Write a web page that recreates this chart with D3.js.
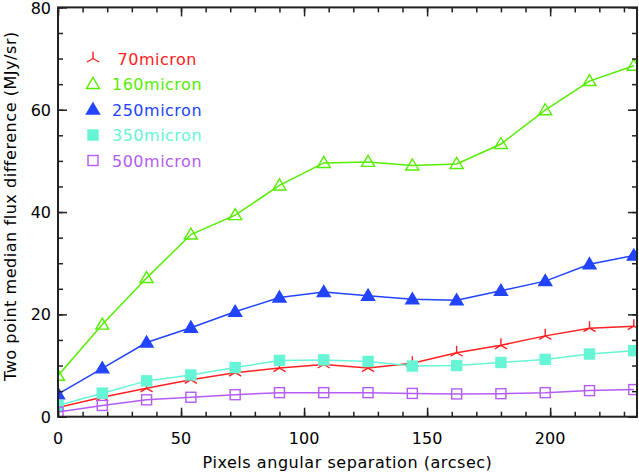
<!DOCTYPE html>
<html>
<head>
<meta charset="utf-8">
<script src="https://cdn.jsdelivr.net/npm/d3@7"></script>
<style>
  body { margin: 0; background: #fff; }
  svg { display: block; font-family: "DejaVu Sans", sans-serif; }
</style>
</head>
<body>
<svg id="chart" width="639" height="474"></svg>
<script>
// separation in arcsec
const sep = [0, 18, 36, 54, 72, 90, 108, 126, 144, 162, 180, 198, 216, 234];
// two point median flux difference (MJy/sr)
const f70  = [1.8, 3.8, 5.55, 7.2, 8.6, 9.5, 10.2, 9.5, 10.45, 12.5, 13.95, 15.8, 17.3, 17.7];
const f160 = [8.0, 18.0, 27.1, 35.6, 39.4, 45.2, 49.6, 49.8, 49.1, 49.4, 53.3, 59.9, 65.6, 68.6];
const f250 = [4.4, 9.45, 14.5, 17.4, 20.5, 23.3, 24.35, 23.65, 22.95, 22.75, 24.6, 26.5, 29.8, 31.5];
const f350 = [2.2, 4.6, 7.0, 8.15, 9.6, 11.0, 11.1, 10.8, 9.9, 10.0, 10.6, 11.2, 12.25, 12.9];
const f500 = [0.9, 2.2, 3.3, 3.8, 4.3, 4.7, 4.7, 4.7, 4.55, 4.45, 4.5, 4.7, 5.1, 5.3];

const seriesNames = ["70micron", "160micron", "250micron", "350micron", "500micron"];
const xTicks = [0, 50, 100, 150, 200];
const yTicks = [0, 20, 40, 60, 80];

const series = [
  {name: seriesNames[0], vals: f70,  color: "#ff2020", marker: "tri"},
  {name: seriesNames[1], vals: f160, color: "#55ee00", marker: "triOpen"},
  {name: seriesNames[2], vals: f250, color: "#2244ff", marker: "triFill"},
  {name: seriesNames[3], vals: f350, color: "#66f5d5", marker: "sqFill"},
  {name: seriesNames[4], vals: f500, color: "#b45cf5", marker: "sqOpen"}
];

const svg = d3.select("#chart");
const L = 58, R = 637, T = 7.4, B = 416.7;

const x = d3.scaleLinear().domain([0, 235.3]).range([L, R]);
const y = d3.scaleLinear().domain([0, 80]).range([B, T]);

// markers
function drawMarker(g, kind, color) {
  if (kind == "tri") {
    g.append("path").attr("d", "M0,0L0,-7M0,0L-6.1,3.5M0,0L6.1,3.5")
      .attr("stroke", color).attr("stroke-width", 1.4).attr("fill", "none");
  } else if (kind == "triOpen" || kind == "triFill") {
    g.append("path").attr("d", "M0,-6.5L6.5,4.5L-6.5,4.5Z")
      .attr("stroke", color).attr("stroke-width", 1.4)
      .attr("fill", kind == "triFill" ? color : "none");
  } else {
    g.append("rect").attr("x", -5).attr("y", -5).attr("width", 10).attr("height", 10)
      .attr("stroke", color).attr("stroke-width", 1.4)
      .attr("fill", kind == "sqFill" ? color : "none");
  }
}

svg.append("clipPath").attr("id", "clip")
  .append("rect").attr("x", L).attr("y", T).attr("width", R - L).attr("height", B - T);

const plot = svg.append("g").attr("clip-path", "url(#clip)");

const line = d3.line().x((d, i) => x(sep[i])).y(d => y(d));

for (let s of series) {
  plot.append("path").datum(s.vals).attr("d", line)
    .attr("fill", "none").attr("stroke", s.color).attr("stroke-width", 1.5);
  s.vals.forEach((v, i) => {
    let g = plot.append("g").attr("transform", `translate(${x(sep[i])},${y(v)})`);
    drawMarker(g, s.marker, s.color);
  });
}

// axes, ticks pointing inward on all four sides
const axisColor = "#222";
const xMinor = d3.range(0, 236, 10);
const yMinor = d3.range(0, 81, 5);

svg.append("g").attr("transform", `translate(0,${B})`)
  .call(d3.axisTop(x).tickValues(xMinor).tickSize(5).tickFormat(""));
svg.append("g").attr("transform", `translate(0,${B})`)
  .call(d3.axisTop(x).tickValues(xTicks).tickSize(9).tickFormat(""));
svg.append("g").attr("transform", `translate(0,${T})`)
  .call(d3.axisBottom(x).tickValues(xMinor).tickSize(5).tickFormat(""));
svg.append("g").attr("transform", `translate(0,${T})`)
  .call(d3.axisBottom(x).tickValues(xTicks).tickSize(9).tickFormat(""));
svg.append("g").attr("transform", `translate(${L},0)`)
  .call(d3.axisRight(y).tickValues(yMinor).tickSize(5).tickFormat(""));
svg.append("g").attr("transform", `translate(${L},0)`)
  .call(d3.axisRight(y).tickValues(yTicks).tickSize(9).tickFormat(""));
svg.append("g").attr("transform", `translate(${R},0)`)
  .call(d3.axisLeft(y).tickValues(yMinor).tickSize(5).tickFormat(""));
svg.append("g").attr("transform", `translate(${R},0)`)
  .call(d3.axisLeft(y).tickValues(yTicks).tickSize(9).tickFormat(""));

svg.selectAll(".domain").remove();
svg.selectAll(".tick line").attr("stroke", axisColor).attr("stroke-width", 1.5);

svg.append("rect").attr("x", L).attr("y", T).attr("width", R - L).attr("height", B - T)
  .attr("fill", "none").attr("stroke", axisColor).attr("stroke-width", 2);

// tick labels
svg.selectAll(".xlab").data(xTicks).join("text")
  .attr("x", d => x(d)).attr("y", 444)
  .attr("text-anchor", "middle").attr("font-size", 16).attr("fill", "#000")
  .text(d => d);
svg.selectAll(".ylab").data(yTicks).join("text")
  .attr("x", L - 7).attr("y", d => Math.max(y(d) + 6, 13.5))
  .attr("text-anchor", "end").attr("font-size", 16).attr("fill", "#000")
  .text(d => d);

// axis titles
svg.append("text").attr("x", (L + R) / 2).attr("y", 468)
  .attr("text-anchor", "middle").attr("font-size", 16).attr("letter-spacing", 0.55)
  .text("Pixels angular separation (arcsec)");
svg.append("text").attr("transform", `translate(16,${(T + B) / 2 - 6}) rotate(-90)`)
  .attr("text-anchor", "middle").attr("font-size", 16).attr("letter-spacing", 0.55)
  .text("Two point median flux difference (MJy/sr)");

// legend
series.forEach((s, i) => {
  let ly = 58.5 + i * 25.5;
  let g = svg.append("g").attr("transform", `translate(93,${ly})`);
  drawMarker(g, s.marker, s.color);
  svg.append("text").attr("x", 112).attr("y", ly + 6)
    .attr("font-size", 16).attr("fill", s.color).attr("letter-spacing", 0.5)
    .text((i == 0 ? " " : "") + s.name)
    .attr("xml:space", "preserve");
});
</script>
</body>
</html>
